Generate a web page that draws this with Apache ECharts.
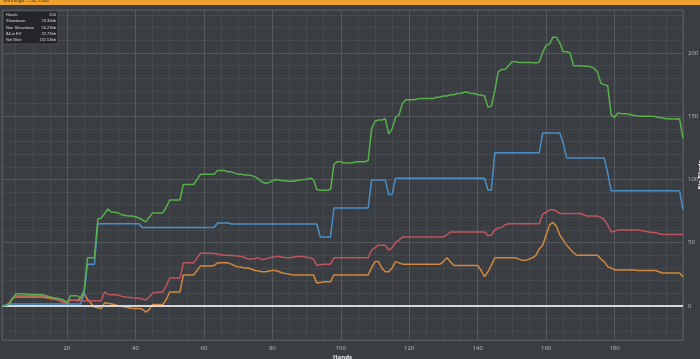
<!DOCTYPE html>
<html><head><meta charset="utf-8">
<script src="https://cdn.jsdelivr.net/npm/echarts@6/dist/echarts.min.js"></script>
<style>html,body{margin:0;padding:0;background:#3a3d42;}#c{width:700px;height:359px;}</style>
</head><body><div id="c"></div>
<script>
const netWon = [
0,0,1,5,9.5,9.5,9.5,9.3,9.2,9,
9,9,8.7,8,7,6.5,6,5.5,4.7,2.4,
7.9,7.9,7.9,6.3,12.6,38,38,38,68.6,69.5,
73,76.6,74,74,73.5,72,71.5,71,71,70.5,
69.5,68,66.4,70,73.5,73.5,73.5,73.5,78,83.7,
83.7,83.7,83.7,96,96,96,96,100,104,104,
104,104,104,107,107,107,106,106,105,104,
104,103.5,103.5,103,102,100,98,97,97.5,99,
100,99.5,99,99,98.5,98.5,99,99.5,100,100,
101,100,92,91.5,91.5,91.5,92,112,114,114,
113,113,113,113.5,114,114,114,115,140,146,
147,147,148,136,140,149,151,160,163,163,
163,163.5,164,164,164,164,164,165,165,166,
166,167,167,168,168,169,169,168,168,167,
166.7,166,157,158,170,185,187,187,190,193,
193,192.5,192.5,192.5,192.5,192.5,192,193,200.6,206,
207,212.5,212.5,208,201,201,200,190,190,190,
189.6,189.6,189,188,185,176,175,174,151,149,
152.5,152,152,151.7,151,150.5,150,150,150,150,
150,149.5,149,148.5,148,148,147.7,147.7,148,132.53];
const showdown = [
0,0.5,1.5,1.5,1.5,1.5,1.5,1.5,1.5,1.5,
1.5,1.5,1.5,1.5,1.5,1.5,1.5,1.5,1.5,1.5,
1.5,1.5,1.5,1.5,10,33,33,33,65,65,
65,65,65,65,65,65,65,65,65,65,
65,62,62,62,62,62,62,62,62,62,
62,62,62,62,62,62,62,62,62,62,
62,62,62,65.5,65.5,65.5,65.5,64.7,64.7,64.7,
64.7,64.7,64.7,64.7,64.7,64.7,64.7,64.7,64.7,64.7,
64.7,64.7,64.7,64.7,64.7,64.7,64.7,64.7,64.7,64.7,
64.7,64.7,64.7,54.5,54.5,54.5,54.5,77.4,77.4,77.4,
77.4,77.4,77.4,77.4,77.4,77.4,77.4,77.4,99.5,99.5,
99.5,99.5,99.5,88,88,101,101,101,101,101,
101,101,101,101,101,101,101,101,101,101,
101,101,101,101,101,101,101,101,101,101,
101,101,91.6,91.6,121,121,121,121,121,121,
121,121,121,121,121,121,121,121,136.7,136.7,
136.7,136.7,136.7,136.7,128.7,117,117,117,117,117,
117,117,117,117,117,117,117,105,91,91,
91,91,91,91,91,91,91,91,91,91,
91,91,91,91,91,91,91,91,91,76.3];
const nonShowdown = [
0,0,2,6,8,8,8,8,8,8,
8,8,8,7.5,7,6,5,4,3,2.4,
4.7,4.5,4,4,4,4,4,4,4,4,
11,9,8.7,8.7,8.5,7.5,7,6.8,6.5,6.3,
6,5.5,4.7,7,10,10.5,11,11,16,22,
22,22,22,34,34,34,34,38,41.7,41.7,
41.7,41.7,41.5,41,40.5,40,40,39.8,39.6,39.5,
39,38,37,37,37.5,38,36.5,37,38,38.5,
39,39,38.5,38,38,38.5,39,39,39,38.5,
38,37,32,32.5,33,33,33,38,38,38,
38,38,38,38,38,38,38,38,44,46,
48,48,48,44,46,50,52,54.5,54.5,54.5,
54.5,54.5,54.5,54.5,54.5,54.5,54.5,54.5,54.5,54.5,
56,58.5,58.5,58.5,58.5,58.5,58.5,58.5,58.5,58.5,
58.5,58.5,55.5,56,60,61.6,62,64,65,65,
65,65,65,65,65,65,65,65,72.7,74,
76,76,75,73,73,73,73,73,73,73,
72,71,71,71,71,70,68,64,58.5,59,
60,60,60,60,60,60,60,59.5,59,58.5,
58,58,57,56.5,56.5,56.5,56.5,56.5,56.5,56.23];
const allInEV = [
0,0,2,6,7,7,7,7,7,7,
7,7,7,6.5,6,5.5,5,4,3,2,
4.5,4.5,4.5,6,10,5,2,-1,-1.5,-2,
2.4,2,1.5,1,0,-0.5,-1,-1.5,-2,-2,
-2,-2.5,-5,-3,1,1,1,1,5,11,
11,11,11,24.5,24.5,24.5,24.5,28,31.6,31.6,
31.6,31.6,32,34,34,34,34,33,31.6,31,
30.5,30,30,29,28,27.5,27,27,27.5,28,
28,27,26,25.5,25,24.5,24.5,24.5,24.5,24.5,
24.5,24.5,18,18.5,19,19,19,24.5,24.5,24.5,
24.5,24.5,24.5,24.5,24.5,24.5,24.5,24.5,30,35,
35,30,27,27,30,35,34,33,33,33,
33,33,33,33,33,33,33,33,33,35,
38,35,32,32,32,32,32,32,32,32,
28,23,27,32,38,38,38,38,38,38,
38,37,36,36,37,38,40,45,48,56,
64,66,63,56,52,48,45,42,40,40,
40,40,40,40,40,37,35,31,30,28.4,
28.4,28.4,28.4,28.4,28.4,28.4,28,28,28,28,
28,28,27,26,26,26,26,26,26,22.79];
const statLabels = ['Hands','Showdown','Non Showdown','All-in EV','Net Won'];
const statValues = ['200','76.30bb','56.23bb','22.79bb','132.53bb'];
const titleText = 'Winnings: 132.53bb';

const hands = netWon.map((_, i) => i + 1);
const pair = arr => arr.map((v, i) => [hands[i], v]);

const chart = echarts.init(document.getElementById('c'));
const mk = (name, arr, c, z) => ({
  name, type: 'line', data: pair(arr), showSymbol: false, symbol: 'none',
  lineStyle: { color: c, width: 1.5 }, itemStyle: { color: c }, z: z, animation: false
});

const statGraphics = [{
  type: 'rect', shape: { x: 3, y: 11, width: 55, height: 33 },
  style: { fill: '#232529', stroke: '#4a4d52', lineWidth: 1 }, z: 100
}];
statLabels.forEach((l, i) => {
  statGraphics.push({ type: 'text', x: 6, y: 15 + i * 6.3, z: 101,
    style: { text: l, fill: '#d8d8d8', fontSize: 4, fontFamily: '"Liberation Sans", sans-serif', textVerticalAlign: 'middle' } });
  statGraphics.push({ type: 'text', x: 56, y: 15 + i * 6.3, z: 101,
    style: { text: statValues[i], fill: '#d8d8d8', fontSize: 4, fontFamily: '"Liberation Sans", sans-serif', textAlign: 'right', textVerticalAlign: 'middle' } });
});

const option = {
  backgroundColor: '#3a3d42',
  animation: false,
  grid: { left: 2, right: 17, top: 10, bottom: 19, show: true, borderColor: '#55585d', borderWidth: 1,
          containLabel: false, outerBoundsMode: 'none' },
  xAxis: {
    type: 'value', min: 1, max: 200, splitNumber: 10,
    name: 'Hands', nameLocation: 'middle', nameGap: 14, nameMoveOverlap: false,
    nameTextStyle: { color: '#e8e8e8', fontSize: 6, fontWeight: 'bold', fontFamily: '"Open Sans", sans-serif' },
    axisLine: { show: false }, axisTick: { show: false },
    axisLabel: { color: '#bbbbbb', fontSize: 6, margin: 5, showMinLabel: false, showMaxLabel: false, fontFamily: '"Open Sans", sans-serif' },
    splitLine: { show: true, lineStyle: { color: '#55585d', width: 1 } },
    minorTick: { show: false, splitNumber: 4 },
    minorSplitLine: { show: true, lineStyle: { color: '#45484d', width: 1 } }
  },
  yAxis: {
    type: 'value', position: 'right', min: -27, max: 234, splitNumber: 5,
    name: 'Big Blinds', nameLocation: 'middle', nameGap: 14, nameMoveOverlap: false,
    nameTextStyle: { color: '#e8e8e8', fontSize: 6, fontWeight: 'bold', fontFamily: '"Open Sans", sans-serif' },
    axisLine: { show: false }, axisTick: { show: false },
    axisLabel: { color: '#bbbbbb', fontSize: 6, margin: 5, showMinLabel: false, showMaxLabel: false, fontFamily: '"Open Sans", sans-serif' },
    splitLine: { show: true, lineStyle: { color: '#55585d', width: 1 } },
    minorTick: { show: false, splitNumber: 5 },
    minorSplitLine: { show: true, lineStyle: { color: '#45484d', width: 1 } }
  },
  graphic: [
    { type: 'rect', shape: { x: 0, y: 0, width: 700, height: 5 }, style: { fill: '#f0a22e' }, z: 100 },
    { type: 'text', x: 3, y: 1, z: 101, style: { text: titleText, fill: '#3a2a10', fontSize: 5, fontFamily: '"Open Sans", sans-serif', textVerticalAlign: 'middle' } },
    ...statGraphics
  ],
  series: [
    mk('All-in EV', allInEV, '#d2893e', 3),
    mk('Non Showdown', nonShowdown, '#c0545e', 4),
    mk('Showdown', showdown, '#4a8fc6', 5),
    Object.assign(mk('Net Won', netWon, '#58b04a', 6), {
      markLine: { silent: true, symbol: 'none', label: { show: false },
        lineStyle: { color: '#d6d6d6', width: 2, type: 'solid' }, data: [{ yAxis: 0 }] }
    })
  ]
};
chart.setOption(option);
</script>
</body></html>
